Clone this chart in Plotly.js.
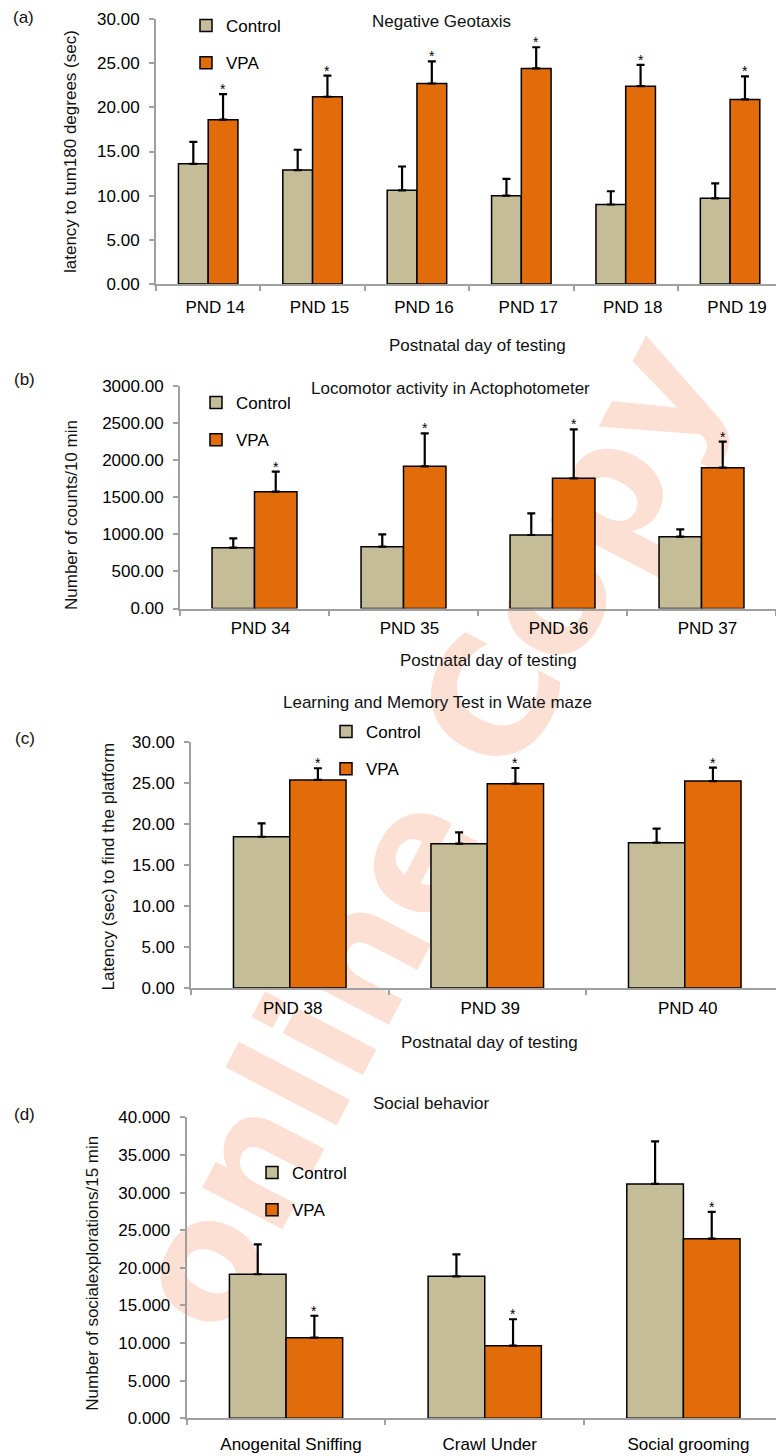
<!DOCTYPE html>
<html>
<head>
<meta charset="utf-8">
<script src="https://cdn.plot.ly/plotly-3.0.1.min.js"></script>
<style>
  html, body { margin:0; padding:0; background:#ffffff; width:776px; height:1456px; overflow:hidden; }
  #wm { position:absolute; left:425px; top:832px; transform:translate(-50%,-50%) rotate(-62.5deg);
        font-family:'DejaVu Sans', 'Liberation Sans', sans-serif; font-weight:bold; font-size:165px;
        color:#fde0d4; white-space:nowrap; line-height:0.8; z-index:0; }
  #chart { position:absolute; left:0; top:0; width:776px; height:1456px; z-index:1; }
</style>
</head>
<body>
<div id="wm">online Copy</div>
<div id="chart"></div>
<script>
// ---------- data ----------
const seriesNames = ['Control', 'VPA'];

const catsA = ['PND 14', 'PND 15', 'PND 16', 'PND 17', 'PND 18', 'PND 19'];
const controlA = [13.6, 12.9, 10.6, 10.0, 9.0, 9.7];
const controlAErr = [2.5, 2.3, 2.7, 1.9, 1.5, 1.7];
const vpaA = [18.6, 21.2, 22.7, 24.4, 22.4, 20.9];
const vpaAErr = [2.9, 2.4, 2.5, 2.4, 2.4, 2.6];

const catsB = ['PND 34', 'PND 35', 'PND 36', 'PND 37'];
const controlB = [819, 832, 990, 967];
const controlBErr = [126, 167, 292, 99];
const vpaB = [1573, 1915, 1753, 1896];
const vpaBErr = [269, 444, 660, 350];

const catsC = ['PND 38', 'PND 39', 'PND 40'];
const controlC = [18.47, 17.62, 17.74];
const controlCErr = [1.64, 1.39, 1.71];
const vpaC = [25.40, 24.95, 25.27];
const vpaCErr = [1.43, 1.91, 1.63];

const catsD = ['Anogenital Sniffing', 'Crawl Under', 'Social grooming'];
const controlD = [19.14, 18.87, 31.14];
const controlDErr = [3.98, 2.92, 5.67];
const vpaD = [10.71, 9.65, 23.87];
const vpaDErr = [2.92, 3.51, 3.55];

const sigA = ['*', '*', '*', '*', '*', '*'];
const sigB = ['*', '*', '*', '*'];
const sigC = ['*', '*', '*'];
const sigD = ['*', '*', '*'];

const titles = ['Negative Geotaxis', 'Locomotor activity in Actophotometer',
                'Learning and Memory Test in Wate maze', 'Social behavior'];
const yTitles = ['latency to tum180 degrees (sec)', 'Number of counts/10 min',
                 'Latency (sec) to find the platform', 'Number of socialexplorations/15 min'];
const xTitle = 'Postnatal day of testing';
const panelLabels = ['(a)', '(b)', '(c)', '(d)'];

// ---------- styling / layout ----------
const W = 776, H = 1456;
const FONT = "Arial, 'Liberation Sans', sans-serif";
const px = v => v / W;
const py = v => 1 - v / H;
const C_CTRL = '#c4bd97', C_VPA = '#e36c0a', AX = '#a0a0a0';
const BARGAP = 0.43;

const panels = [
  {cats: catsA, c: controlA, ce: controlAErr, v: vpaA, ve: vpaAErr, sig: sigA,
   xdom: [156, 776], ydom: [284, 19], xr: [-0.5, 5.44], yr: [0, 30], dtick: 5, fmt: '.2f', shift: 7, stand: 7,
   leg: [186, 8], title: [441, 22], yt: [71, 152], xt: [477, 345], lab: [23, 18]},
  {cats: catsB, c: controlB, ce: controlBErr, v: vpaB, ve: vpaBErr, sig: sigB,
   xdom: [180, 776], ydom: [608.5, 385.7], xr: [-0.5, 3.5], yr: [0, 3000], dtick: 500, fmt: '.2f', shift: 6, stand: 3,
   leg: [196, 385], title: [450, 389], yt: [71, 515], xt: [488, 661], lab: [25, 380]},
  {cats: catsC, c: controlC, ce: controlCErr, v: vpaC, ve: vpaCErr, sig: sigC,
   xdom: [191, 776], ydom: [988, 742.3], xr: [-0.5, 2.462], yr: [0, 30], dtick: 5, fmt: '.2f', shift: 3, stand: 4,
   leg: [326, 714], title: [437, 702], yt: [107.5, 867], xt: [489, 1042], lab: [24.5, 738]},
  {cats: catsD, c: controlD, ce: controlDErr, v: vpaD, ve: vpaDErr, sig: sigD,
   xdom: [186.7, 776], ydom: [1418.3, 1117.3], xr: [-0.5, 2.466], yr: [0, 40], dtick: 5, fmt: '.3f', shift: 5, stand: 9,
   leg: [252, 1155], title: [431, 1103], yt: [91.7, 1273], lab: [24.5, 1114]}
];

const data = [];
const annotations = [];
const layout = {
  width: W, height: H,
  margin: {l: 0, r: 0, t: 0, b: 0},
  paper_bgcolor: 'rgba(0,0,0,0)', plot_bgcolor: 'rgba(0,0,0,0)',
  font: {family: FONT, size: 17, color: '#111111'},
  barmode: 'group', bargap: BARGAP, bargroupgap: 0,
  showlegend: true,
  annotations: annotations
};

panels.forEach((p, k) => {
  const n = k === 0 ? '' : String(k + 1);
  const xa = 'x' + n, ya = 'y' + n, lg = 'legend' + n;
  const zeros = p.c.map(() => 0);
  data.push({
    type: 'bar', name: seriesNames[0], x: p.cats, y: p.c, xaxis: xa, yaxis: ya,
    legend: lg, legendgroup: 'c' + k,
    marker: {color: C_CTRL, line: {color: '#000', width: 1.5}},
    error_y: {type: 'data', symmetric: false, array: p.ce, arrayminus: zeros, color: '#000', thickness: 2.2, width: 4},
    hoverinfo: 'x+y+name'
  });
  data.push({
    type: 'bar', name: seriesNames[1], x: p.cats, y: p.v, xaxis: xa, yaxis: ya,
    legend: lg, legendgroup: 'v' + k,
    marker: {color: C_VPA, line: {color: '#000', width: 1.5}},
    error_y: {type: 'data', symmetric: false, array: p.ve, arrayminus: zeros, color: '#000', thickness: 2.2, width: 4},
    hoverinfo: 'x+y+name'
  });
  layout['xaxis' + n] = {
    domain: [px(p.xdom[0]), px(p.xdom[1])], anchor: ya, type: 'category', range: p.xr,
    showline: true, linecolor: AX, linewidth: 2, ticks: 'outside', tickson: 'boundaries',
    ticklen: 5, tickwidth: 1.5, tickcolor: AX, showgrid: false, zeroline: false,
    tickfont: {family: FONT, size: 17, color: '#000'}, ticklabelshift: p.shift, ticklabelstandoff: p.stand,
    fixedrange: true
  };
  layout['yaxis' + n] = {
    domain: [py(p.ydom[0]), py(p.ydom[1])], anchor: xa, range: p.yr, dtick: p.dtick, tick0: 0,
    tickformat: p.fmt, showline: true, linecolor: AX, linewidth: 2, ticks: 'outside',
    ticklen: 5, tickwidth: 1.5, tickcolor: AX, showgrid: false, zeroline: false,
    tickfont: {family: FONT, size: 17, color: '#000'}, ticklabelstandoff: 6, fixedrange: true
  };
  layout[lg] = {
    x: px(p.leg[0]), y: py(p.leg[1]), xanchor: 'left', yanchor: 'top',
    bgcolor: 'rgba(0,0,0,0)', borderwidth: 0, font: {family: FONT, size: 17, color: '#000'},
    tracegroupgap: 12, itemclick: false, itemdoubleclick: false
  };
  // significance stars above VPA error bars
  const off = (1 - BARGAP) / 4;
  p.sig.forEach((s, i) => {
    if (!s) return;
    annotations.push({xref: xa, yref: ya, x: i + off, y: p.v[i] + p.ve[i], text: s, showarrow: false,
      yanchor: 'bottom', yshift: -5, font: {family: FONT, size: 14, color: '#000'}});
  });
  // panel title
  annotations.push({xref: 'paper', yref: 'paper', x: px(p.title[0]), y: py(p.title[1]), text: titles[k],
    showarrow: false, xanchor: 'center', yanchor: 'middle', font: {family: FONT, size: 17, color: '#111'}});
  // y title
  annotations.push({xref: 'paper', yref: 'paper', x: px(p.yt[0]), y: py(p.yt[1]), text: yTitles[k],
    textangle: -90, showarrow: false, xanchor: 'center', yanchor: 'middle', font: {family: FONT, size: 17, color: '#111'}});
  // x title
  if (p.xt) {
    annotations.push({xref: 'paper', yref: 'paper', x: px(p.xt[0]), y: py(p.xt[1]), text: xTitle,
      showarrow: false, xanchor: 'center', yanchor: 'middle', font: {family: FONT, size: 17, color: '#111'}});
  }
  // panel label
  annotations.push({xref: 'paper', yref: 'paper', x: px(p.lab[0]), y: py(p.lab[1]), text: panelLabels[k],
    showarrow: false, xanchor: 'center', yanchor: 'middle', font: {family: FONT, size: 17, color: '#111'}});
});

Plotly.newPlot('chart', data, layout, {displayModeBar: false, staticPlot: false});
</script>
</body>
</html>
